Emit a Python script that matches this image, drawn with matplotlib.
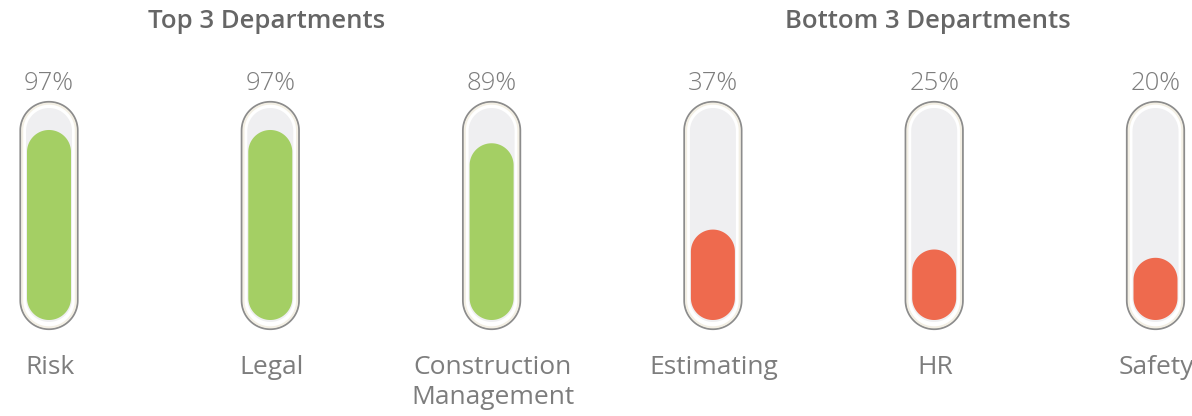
import numpy as np
import matplotlib
matplotlib.use("Agg")
import matplotlib.pyplot as plt
from matplotlib.patches import Polygon

# ---- data ----
group_titles = ["Top 3 Departments", "Bottom 3 Departments"]
departments = ["Risk", "Legal", "Construction\nManagement", "Estimating", "HR", "Safety"]
values = [97, 97, 89, 37, 25, 20]
groups = [0, 0, 0, 1, 1, 1]

# ---- style ----
W, H = 1192, 416
colors = {0: "#a4cf64", 1: "#ee6a4e"}
text_color = "#7d7d7d"
title_color = "#666666"
FONT = ["Open Sans", "DejaVu Sans"]

fig = plt.figure(figsize=(W / 100, H / 100), dpi=100)
fig.patch.set_facecolor("white")


def fx(px):
    return px / W


def fy(py):
    return 1 - py / H


# layout (pixels)
x0, dx = 49, 221.3
ax_w = 72
ax_top, ax_bot = 95, 340
# value axis mapping: pixel = 291 - 1.66*v
k = 1.66
ylim_lo = (291 - ax_bot) / k
ylim_hi = (291 - ax_top) / k
asp = 1 / k
outline_lo, outline_hi = (291 - 329) / k, (291 - 102) / k
track_lo, track_hi = (291 - 322) / k, (291 - 108) / k
fill_lo = (291 - 320) / k


def stadium(ax, half_w, lo, hi, **kw):
    r = half_w
    ry = r * asp
    t1 = np.linspace(np.pi, 2 * np.pi, 60)       # bottom arc
    t2 = np.linspace(0, np.pi, 60)               # top arc
    xs = np.concatenate([r * np.cos(t1), r * np.cos(t2)])
    ys = np.concatenate([lo + ry + ry * np.sin(t1), hi - ry + ry * np.sin(t2)])
    p = Polygon(np.column_stack([xs, ys]), closed=True, **kw)
    ax.add_patch(p)
    return p


for i, (name, v, g) in enumerate(zip(departments, values, groups)):
    cx = x0 + i * dx
    ax = fig.add_axes([fx(cx - ax_w / 2), fy(ax_bot), ax_w / W, (ax_bot - ax_top) / H])
    ax.set_xlim(-ax_w / 2, ax_w / 2)
    ax.set_ylim(ylim_lo, ylim_hi)
    ax.axis("off")

    stadium(ax, 28.5, outline_lo, outline_hi, fc="white", ec="#8c8c8c", lw=1.6, zorder=1)
    stadium(ax, 26.8, outline_lo + 1.0, outline_hi - 1.0, fc="none", ec="#f3efe4", lw=1.5, zorder=1.5)
    stadium(ax, 23, track_lo, track_hi, fc="#efeff1", ec="none", zorder=2)
    stadium(ax, 22, fill_lo, v, fc=colors[g], ec="none", zorder=3)

    fig.text(fx(cx), fy(84), f"{v}%", ha="center", va="center", fontsize=18.5,
             color=text_color, family=FONT, fontweight="light")
    for j, line in enumerate(name.split("\n")):
        fig.text(fx(cx + 1), fy(368 + 29 * j), line, ha="center", va="center",
                 fontsize=19, color=text_color, family=FONT)

# group titles
title_x = [267, 928]
for t, tx in zip(group_titles, title_x):
    fig.text(fx(tx), fy(22), t, ha="center", va="center", fontsize=18.5,
             color=title_color, family=FONT, fontweight="semibold")

fig.savefig("out.png", dpi=100, facecolor="white")
